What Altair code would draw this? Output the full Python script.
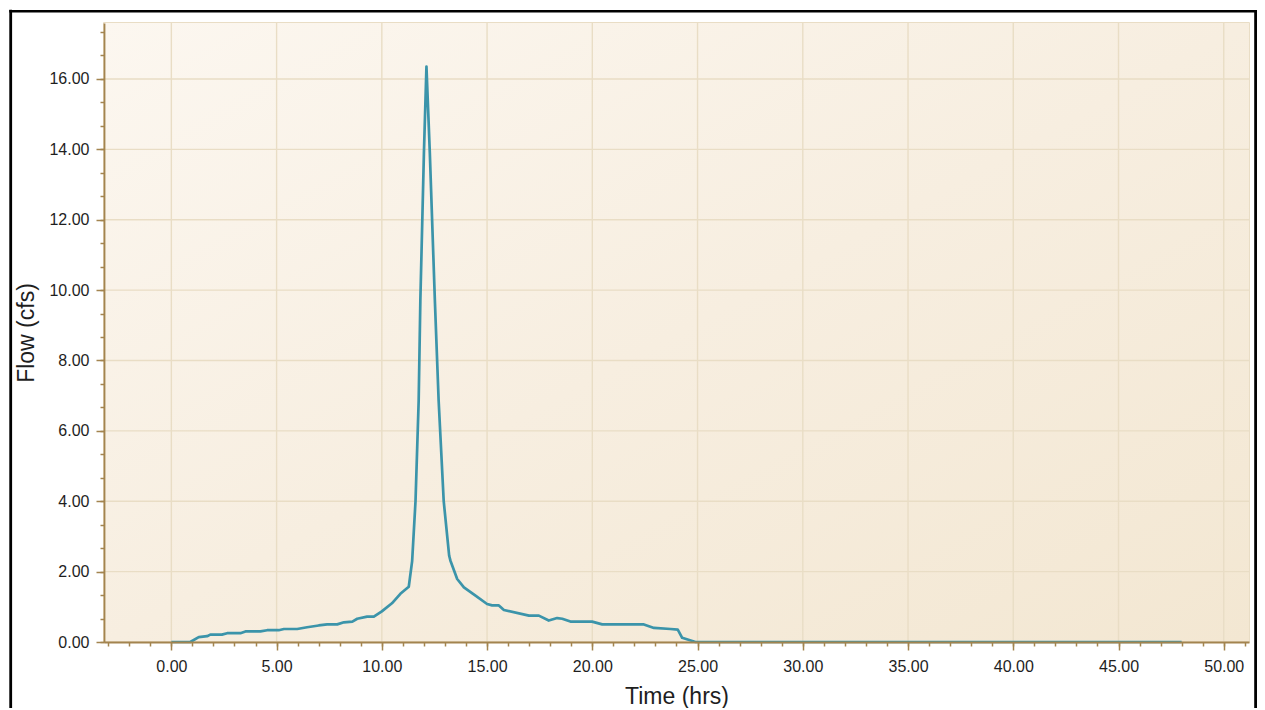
import altair as alt
import pandas as pd

time_hrs = [0, 0.9, 1.3, 1.7, 1.85, 2.4, 2.65, 3.28, 3.52, 4.23,
            4.55, 5.1, 5.35, 5.98, 6.45, 7.0, 7.4, 7.88, 8.2, 8.6,
            8.83, 9.3, 9.62, 10.0, 10.48, 10.88, 11.28, 11.44, 11.6, 11.75,
            11.83, 12.0, 12.12, 12.28, 12.52, 12.7, 12.94, 13.2, 13.26, 13.58,
            13.9, 14.45, 15.0, 15.24, 15.56, 15.8, 16.99, 17.46, 17.93, 18.33,
            18.57, 18.96, 19.99, 20.47, 22.45, 22.93, 23.72, 24.06, 24.27, 24.9,
            48.0]
flow_cfs = [0, 0, 0.14, 0.165, 0.21, 0.21, 0.25, 0.25, 0.30, 0.30,
            0.335, 0.335, 0.37, 0.37, 0.42, 0.47, 0.5, 0.5, 0.56, 0.58,
            0.66, 0.72, 0.72, 0.87, 1.1, 1.37, 1.57, 2.3, 4.0, 6.85,
            9.7, 13.9, 16.35, 13.9, 9.7, 6.85, 4.0, 2.45, 2.31, 1.79,
            1.55, 1.32, 1.08, 1.04, 1.04, 0.91, 0.75, 0.75, 0.61, 0.68,
            0.66, 0.58, 0.58, 0.5, 0.5, 0.40, 0.37, 0.35, 0.12, 0.0,
            0.0]

x_major = [0, 5, 10, 15, 20, 25, 30, 35, 40, 45, 50]
y_major = [0, 2, 4, 6, 8, 10, 12, 14, 16]
x_minor = list(range(-3, 52))
y_minor = [round(i * 2 / 3, 4) for i in range(27)]

W, H = 1145, 619
FONT = "Liberation Sans"
AXIS_COL = "#a3844f"
GRID_COL = "#e9ddc5"
LINE_COL = "#3b94aa"
TXT = "#1e1e1e"

xscale = alt.Scale(domain=[-3.2, 51.2], nice=False, zero=False)
yscale = alt.Scale(domain=[0, 17.59], nice=False)

one = pd.DataFrame({"k": [0]})

bg = alt.Chart(one).mark_rect(
    fill=alt.Gradient(
        gradient="linear",
        stops=[alt.GradientStop(color="#fcf7f0", offset=0),
               alt.GradientStop(color="#f7eee0", offset=0.5),
               alt.GradientStop(color="#f3e7d2", offset=1)],
        x1=0, y1=0, x2=1, y2=1),
    strokeWidth=0,
).encode(x=alt.value(0), x2=alt.value(W), y=alt.value(0), y2=alt.value(H))

minor_x_axis = alt.Axis(values=x_minor, labels=False, tickSize=4, domain=False,
                        grid=False, title=None, orient="bottom", tickColor=AXIS_COL,
                        tickWidth=1.5, zindex=1)
minor_y_axis = alt.Axis(values=y_minor, labels=False, tickSize=4, domain=False,
                        grid=False, title=None, orient="left", tickColor=AXIS_COL,
                        tickWidth=1.5, zindex=1)

vgrid = alt.Chart(pd.DataFrame({"gx": x_major})).mark_rule(
    color=GRID_COL, strokeWidth=1.4
).encode(x=alt.X("gx:Q", scale=xscale, axis=minor_x_axis))

hgrid = alt.Chart(pd.DataFrame({"gy": y_major})).mark_rule(
    color=GRID_COL, strokeWidth=1.4
).encode(y=alt.Y("gy:Q", scale=yscale, axis=minor_y_axis))

major_x_axis = alt.Axis(
    values=x_major, format=".2f", tickSize=8, grid=False, orient="bottom",
    title="Time (hrs)", titleX=W / 2, titleY=61, titleBaseline="alphabetic",
    titleAlign="center", titleFont=FONT, titleFontSize=23, titleFontWeight="normal",
    titleColor=TXT, labelFont=FONT, labelFontSize=16, labelColor=TXT,
    labelPadding=8, labelOverlap=False, labelFlush=False,
    domainColor=AXIS_COL, domainWidth=1.8, tickColor=AXIS_COL, tickWidth=1.5,
    zindex=1)
major_y_axis = alt.Axis(
    values=y_major, format=".2f", tickSize=8, grid=False, orient="left",
    title="Flow (cfs)", titleX=-71, titleY=H / 2, titleAngle=270,
    titleBaseline="alphabetic", titleAlign="center", titleFont=FONT,
    titleFontSize=23, titleFontWeight="normal", titleColor=TXT,
    labelFont=FONT, labelFontSize=16, labelColor=TXT, labelPadding=7,
    labelOverlap=False, labelFlush=False,
    domainColor=AXIS_COL, domainWidth=1.8, tickColor=AXIS_COL, tickWidth=1.5,
    zindex=1)

line = alt.Chart(pd.DataFrame({"t": time_hrs, "q": flow_cfs})).mark_line(
    color=LINE_COL, strokeWidth=2.7, strokeJoin="round"
).encode(
    x=alt.X("t:Q", scale=xscale, axis=major_x_axis),
    y=alt.Y("q:Q", scale=yscale, axis=major_y_axis),
)

frame_left = alt.Chart(one).mark_rule(color="black", strokeWidth=2.8).encode(
    x=alt.value(-93.3), y=alt.value(-13.3), y2=alt.value(720))
frame_top = alt.Chart(one).mark_rule(color="black", strokeWidth=2.4).encode(
    x=alt.value(-94.7), x2=alt.value(1153), y=alt.value(-11.8))
frame_right = alt.Chart(one).mark_rule(color="black", strokeWidth=2.8).encode(
    x=alt.value(1151.6), y=alt.value(-13), y2=alt.value(720))

chart = alt.layer(bg, vgrid, hgrid, line, frame_left, frame_top, frame_right).resolve_axis(
    x="independent", y="independent"
).properties(
    width=W, height=H,
    padding={"left": 96, "top": 15, "right": 8, "bottom": 66},
    autosize=alt.AutoSizeParams(type="none"),
    background="white",
).configure_view(stroke="#e2d2b2", strokeWidth=1.5)

chart.save("out.html", embed_options={"renderer": "svg", "actions": False})
